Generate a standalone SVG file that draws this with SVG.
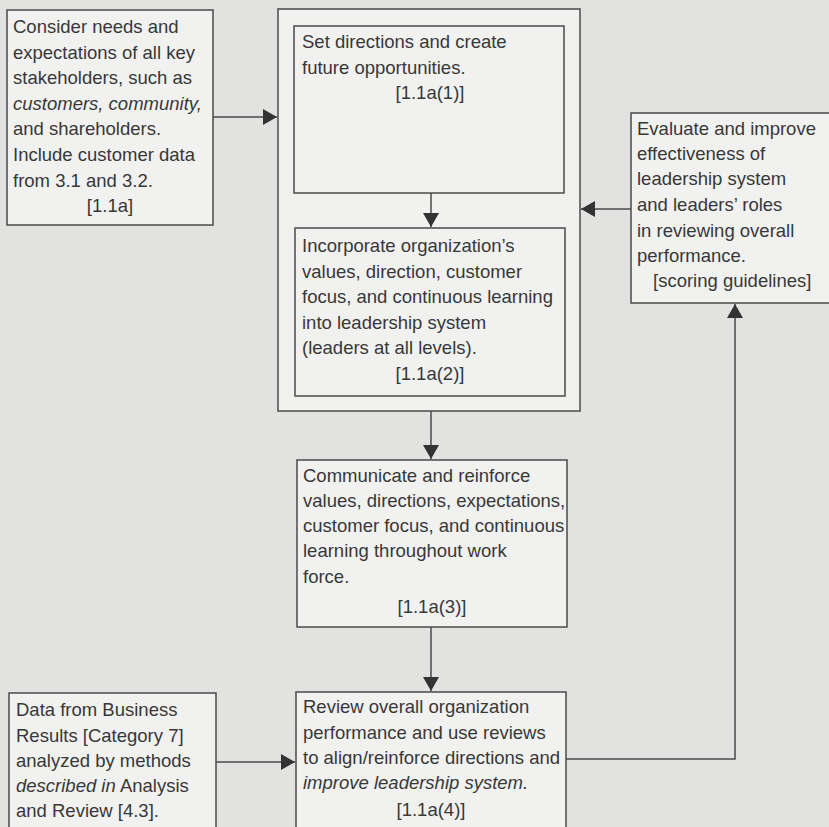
<svg xmlns="http://www.w3.org/2000/svg" width="829" height="827" viewBox="0 0 829 827">
<style>
.box{fill:#f1f1f0;stroke:#4a4a4a;stroke-width:1.5}
.t{font-family:"Liberation Sans",Arial,sans-serif;font-size:18.5px;fill:#383838}
.c{text-anchor:middle}
.i{font-style:italic}
.con{fill:none;stroke:#4a4a4a;stroke-width:1.5}
</style>
<defs>
<marker id="arr" markerWidth="14" markerHeight="16" refX="14" refY="8" orient="auto" markerUnits="userSpaceOnUse">
<path d="M0,0 L14,8 L0,16 z" fill="#333"/>
</marker>
</defs>
<rect x="0" y="0" width="829" height="827" fill="#e2e2e1"/>

<g id="stakeholders">
<rect class="box" x="7" y="10" width="206" height="215"/>
<text class="t"><tspan x="13" y="33">Consider needs and</tspan><tspan x="13" y="58.6">expectations of all key</tspan><tspan x="13" y="84.2">stakeholders, such as</tspan><tspan x="13" y="109.8" class="i">customers, community,</tspan><tspan x="13" y="135.4">and shareholders.</tspan><tspan x="13" y="161">Include customer data</tspan><tspan x="13" y="186.6">from 3.1 and 3.2.</tspan><tspan x="110" y="212" class="c">[1.1a]</tspan></text>
</g>

<g id="leadership-system">
<rect class="box" x="278" y="9" width="302" height="402"/>
</g>

<g id="set-directions">
<rect class="box" x="294" y="26" width="270" height="167"/>
<text class="t"><tspan x="302" y="48">Set directions and create</tspan><tspan x="302" y="74">future opportunities.</tspan><tspan x="430" y="99" class="c">[1.1a(1)]</tspan></text>
</g>

<g id="incorporate">
<rect class="box" x="295" y="228" width="270" height="168"/>
<text class="t"><tspan x="302" y="252">Incorporate organization’s</tspan><tspan x="302" y="277.5">values, direction, customer</tspan><tspan x="302" y="303">focus, and continuous learning</tspan><tspan x="302" y="328.5">into leadership system</tspan><tspan x="302" y="354">(leaders at all levels).</tspan><tspan x="430" y="380" class="c">[1.1a(2)]</tspan></text>
</g>

<g id="communicate">
<rect class="box" x="297" y="460" width="270" height="167"/>
<text class="t"><tspan x="303" y="482">Communicate and reinforce</tspan><tspan x="303" y="507">values, directions, expectations,</tspan><tspan x="303" y="532">customer focus, and continuous</tspan><tspan x="303" y="557">learning throughout work</tspan><tspan x="303" y="583">force.</tspan><tspan x="432" y="613" class="c">[1.1a(3)]</tspan></text>
</g>

<g id="review">
<rect class="box" x="296" y="692" width="270" height="150"/>
<text class="t"><tspan x="303" y="713">Review overall organization</tspan><tspan x="303" y="739">performance and use reviews</tspan><tspan x="303" y="764">to align/reinforce directions and</tspan><tspan x="303" y="789" class="i">improve leadership system.</tspan><tspan x="431" y="816" class="c">[1.1a(4)]</tspan></text>
</g>

<g id="business-results">
<rect class="box" x="9" y="693" width="207" height="150"/>
<text class="t"><tspan x="16" y="716">Data from Business</tspan><tspan x="16" y="742">Results [Category 7]</tspan><tspan x="16" y="767">analyzed by methods</tspan><tspan x="16" y="792"><tspan class="i">described in</tspan> Analysis</tspan><tspan x="16" y="817">and Review [4.3].</tspan></text>
</g>

<g id="evaluate">
<rect class="box" x="631" y="113" width="210" height="190"/>
<text class="t"><tspan x="637" y="135">Evaluate and improve</tspan><tspan x="637" y="160">effectiveness of</tspan><tspan x="637" y="185">leadership system</tspan><tspan x="637" y="211">and leaders’ roles</tspan><tspan x="637" y="237">in reviewing overall</tspan><tspan x="637" y="262">performance.</tspan><tspan x="653" y="287">[scoring guidelines]</tspan></text>
</g>

<g id="connectors">
<path class="con" d="M213,117 H277" marker-end="url(#arr)"/>
<path class="con" d="M431,193 V227" marker-end="url(#arr)"/>
<path class="con" d="M431,411 V459" marker-end="url(#arr)"/>
<path class="con" d="M431,627 V691" marker-end="url(#arr)"/>
<path class="con" d="M216,762 H295" marker-end="url(#arr)"/>
<path class="con" d="M631,209 H581" marker-end="url(#arr)"/>
<path class="con" d="M566,759 H735 V304" marker-end="url(#arr)"/>
</g>
</svg>
